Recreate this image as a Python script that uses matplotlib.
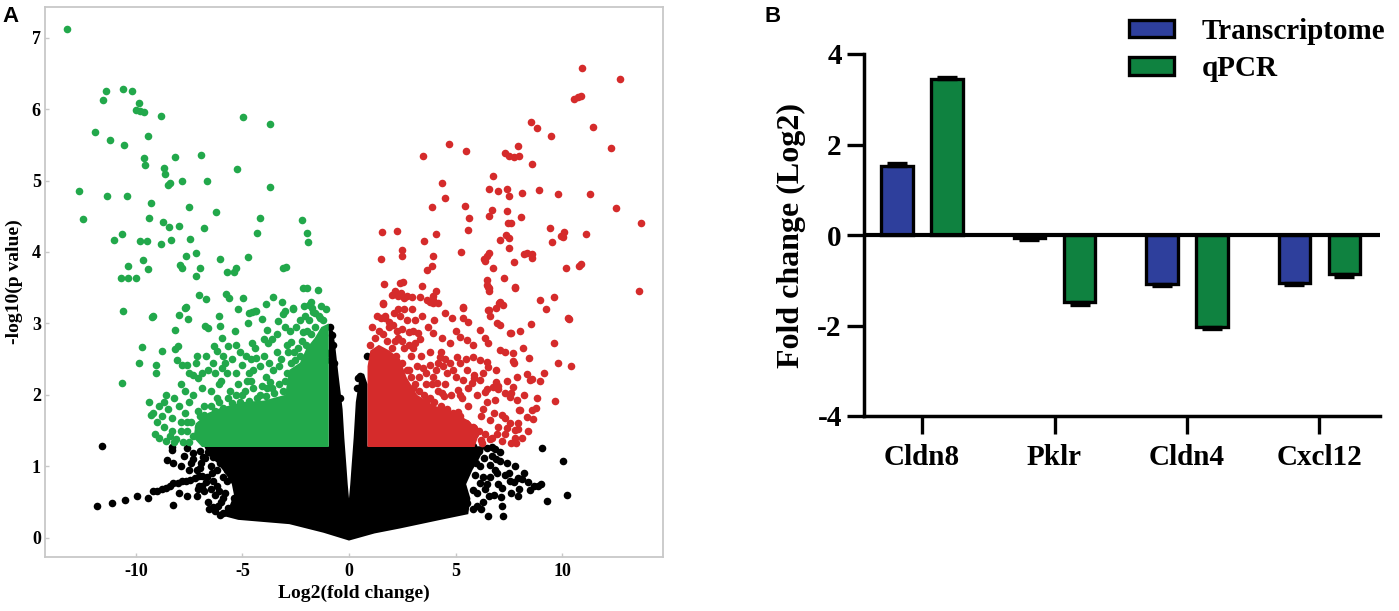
import matplotlib
matplotlib.use("Agg")
import matplotlib.pyplot as plt
from matplotlib.patches import Patch
import numpy as np

plt.rcParams['axes.unicode_minus'] = False
SERIF = ['Liberation Serif', 'DejaVu Serif']
SANS = ['Liberation Sans', 'DejaVu Sans']

# ---------------- Panel A: volcano plot ----------------
# dense clouds drawn as outlines (visual envelope of the overlapping dots)
black_cloud_x = [0.0, 1.2, 2.4, 4.3, 5.6, 5.7, 5.5, 5.8, 6.1, 6.4, 0.87, 0.87, 0.7, 0.5, 0.32,
                 0.22, 0.12, 0.06, 0.0, -0.06, -0.12, -0.22, -0.3, -0.5, -0.65, -0.75, -0.95,
                 -0.95, -6.8, -6.6, -6.2, -5.8, -5.5, -5.4, -5.6, -6.1, -5.2, -2.8, -1.2]
black_cloud_y = [-0.04, 0.06, 0.13, 0.25, 0.33, 0.55, 0.75, 0.95, 1.1, 1.28, 1.28, 2.15, 2.3, 2.25, 1.9,
                 1.4, 1.0, 0.75, 0.55, 0.75, 1.0, 1.4, 1.8, 2.3, 2.7, 2.9, 2.9,
                 1.28, 1.28, 1.15, 1.05, 0.9, 0.75, 0.6, 0.45, 0.32, 0.25, 0.19, 0.07]

green_cloud_x = [-0.95, -6.9, -7.3, -7.2, -6.6, -6.0, -5.0, -4.0, -3.0, -2.8, -2.3, -2.0, -1.6, -1.3, -0.95]
green_cloud_y = [1.27, 1.27, 1.4, 1.6, 1.75, 1.82, 1.9, 1.92, 2.0, 2.35, 2.45, 2.65, 2.8, 2.95, 3.0]

red_cloud_x = [0.87, 5.9, 6.1, 5.7, 5.0, 4.0, 3.2, 2.7, 2.4, 1.9, 1.4, 1.0, 0.87]
red_cloud_y = [1.27, 1.27, 1.45, 1.62, 1.75, 1.85, 2.0, 2.25, 2.5, 2.62, 2.7, 2.62, 2.4]

# individual points (log2 fold change, -log10 p)
down_x = [-13.25, -12.68, -12.5, -11.9, -11.56, -11.4, -11.35, -11.22, -11.02, -10.67, -10.7, -10.63,
          -10.63, -10.56, -10.44, -10.38, -10.38, -10.19, -10.0, -9.86, -10.0, -9.81, -9.62, -9.81,
          -9.69, -9.62, -9.59, -9.5, -9.45, -9.44, -9.39, -9.3, -9.22, -8.82, -8.82, -8.73, -8.69,
          -8.65, -8.47, -8.37, -8.5, -8.4, -8.17, -7.98, -7.93, -7.85, -7.85, -7.65, -7.67, -8.0,
          -7.5, -7.46, -7.17, -7.17, -7.06, -6.99, -6.96, -6.81, -6.73, -6.66, -6.25, -6.06, -6.1,
          -5.77, -5.65, -5.73, -5.4, -5.3, -5.26, -5.2, -4.99, -4.96, -4.74, -4.7, -4.55, -4.35,
          -4.32, -4.18, -3.9, -3.72, -3.71, -3.57, -3.1, -2.98, -3.16, -3.0, -2.62, -2.22, -2.15,
          -1.98, -1.99, -1.92, -1.45, -2.1, -1.9, -1.75, -1.7,
          -10.67, -9.84, -9.73, -9.23, -9.04, -9.04, -8.8, -8.17, -7.7, -7.54, -8.17, -8.05,
          -8.09, -7.85, -7.6, -7.32, -7.1, -7.15, -6.76, -6.6, -6.32, -6.06, -5.9, -5.98, -5.7,
          -5.35, -4.73, -4.41, -4.57, -4.6, -4.35, -3.86, -4.08, -3.32, -3.1, -2.61, -1.78, -1.36,
          -3.8, -3.6, -2.9, -2.7, -2.15, -1.95, -2.53, -2.3,
          -9.4, -9.2, -9.0, -8.7, -8.5, -8.9, -8.3, -8.6, -8.2, -7.9, -8.1, -7.7, -7.5, -7.3,
          -7.9, -9.1, -8.6,
          -6.8, -6.5, -6.2, -6.0, -5.6, -5.3, -5.0, -4.8, -4.5, -4.2, -3.9, -3.6, -3.3, -3.0,
          -6.6, -5.8, -5.1, -4.0, -3.4, -6.9, -7.0, -6.4,
          -7.6, -7.4, -7.1, -6.8, -6.5, -6.3, -6.1, -5.9, -5.7, -5.5, -5.3, -5.1, -4.9, -4.7,
          -4.5, -4.3, -4.1, -3.9, -3.7, -3.5, -3.3, -3.1, -2.9, -2.7, -2.6, -2.4, -2.2, -2.0,
          -1.8, -1.6, -1.4, -1.2, -1.1, -1.3, -1.6,
          -7.5, -7.2, -6.9, -6.7, -6.4, -6.2, -5.95, -5.75, -5.5, -5.3, -5.0, -4.85, -4.7, -4.4,
          -4.2, -4.0, -3.75, -3.55, -3.4, -3.2, -3.0, -2.85, -2.75, -2.5, -2.3, -2.05, -1.9,
          -6.1, -6.3, -5.2, -4.6, -3.85, -7.7, -8.0, -8.3, -8.8, -7.8, -7.5, -8.2,
          -7.3, -7.6, -8.4, -8.9, -9.3, -7.9, -7.1, -8.7]
down_y = [7.12, 4.85, 4.46, 5.68, 6.13, 6.26, 4.78, 5.57, 4.17, 4.25, 3.64, 3.17,
          6.28, 5.5, 4.78, 3.8, 3.64, 6.26, 3.64, 6.09, 5.99, 5.97, 5.96, 4.15,
          3.89, 5.31, 5.22, 4.15, 5.62, 3.76, 4.47, 4.69, 3.1, 5.9, 4.11, 4.42, 5.18,
          5.09, 4.35, 4.17, 4.94, 4.96, 5.33, 4.36, 3.82, 3.78, 4.99, 3.94, 3.23, 3.12,
          4.63, 4.18, 3.98, 3.66, 3.4, 3.78, 5.36, 4.34, 3.34, 4.99, 4.56, 3.9, 3.1,
          3.41, 3.36, 3.72, 3.72, 3.78, 5.16, 3.2, 3.35, 5.89, 3.93, 3.15, 3.16, 3.18,
          4.27, 4.47, 3.27, 4.91, 5.79, 3.37, 3.78, 3.79, 3.3, 3.17, 3.2, 4.45, 3.5,
          3.5, 4.26, 4.14, 3.47, 3.24, 3.26, 3.22, 3.16,
          2.17, 2.44, 2.67, 3.09, 2.42, 2.31, 2.61, 2.91, 3.22, 3.06, 2.64, 2.68,
          2.49, 2.42, 2.42, 2.28, 2.24, 2.54, 2.97, 2.93, 2.68, 2.96, 2.54, 2.79, 2.68,
          2.89, 3.0, 3.17, 2.72, 2.5, 2.52, 2.91, 3.06, 3.03, 3.13, 3.21, 3.3, 3.08,
          2.73, 2.78, 2.7, 2.74, 2.88, 2.9, 2.49, 2.55,
          1.9, 1.75, 1.62, 1.55, 1.8, 1.85, 1.68, 2.0, 1.95, 1.5, 1.38, 1.75, 1.9, 2.0,
          2.15, 1.45, 1.35,
          1.85, 2.05, 1.95, 2.2, 2.05, 2.3, 2.0, 2.2, 2.35, 2.0, 2.25, 2.1, 2.4, 2.2,
          2.35, 2.45, 2.6, 2.55, 2.6, 2.1, 1.7, 1.6,
          1.5, 1.62, 1.78, 1.72, 1.85, 1.78, 1.9, 1.82, 1.95, 1.88, 2.0, 1.9, 2.05, 1.92,
          2.1, 1.95, 2.12, 1.98, 2.18, 2.02, 2.15, 2.05, 2.3, 2.45, 2.6, 2.65, 2.75, 2.7,
          2.85, 2.95, 3.1, 3.05, 3.2, 3.25, 3.15,
          2.3, 2.45, 2.3, 2.55, 2.45, 2.62, 2.38, 2.3, 2.5, 2.7, 2.42, 2.55, 2.3, 2.65,
          2.4, 2.78, 2.45, 2.35, 2.85, 2.5, 2.95, 2.6, 2.9, 2.95, 3.05, 3.1, 3.05,
          2.15, 2.3, 2.15, 2.2, 2.1, 2.05, 1.85, 1.5, 1.7, 1.34, 1.34, 1.34,
          1.42, 1.62, 1.42, 1.4, 1.72, 1.62, 1.55, 1.9]

up_x = [1.56, 2.24, 1.5, 2.49, 2.49, 1.64, 1.6, 3.48, 4.7, 5.48, 4.37, 4.49, 3.88, 5.45, 5.64,
        5.57, 3.53, 4.07, 3.93, 3.9, 5.24, 3.65, 2.54, 3.41, 2.0, 2.15, 2.3, 2.45, 2.6, 3.8,
        3.95, 4.1, 5.35, 10.92, 12.72, 10.55, 10.75, 10.9, 11.44, 12.3, 8.54, 8.84, 9.5, 7.95,
        7.3, 7.5, 7.75, 8.0, 8.58, 6.78, 6.56, 7.0, 7.4, 7.5, 8.1, 8.92, 9.81, 11.32, 12.53,
        13.69, 13.6, 6.71, 7.42, 6.57, 8.08, 7.48, 7.6, 7.37, 7.5, 7.1, 7.51, 9.44, 10.1, 9.95,
        11.13, 9.52, 8.2, 8.35, 8.6, 8.6, 6.5, 6.35, 7.76, 6.77, 10.17, 10.8, 10.9, 7.28, 6.57,
        6.57, 7.81, 8.97, 9.62, 9.23, 7.04, 6.9, 6.57, 10.3, 5.37, 10.03, 10.33, 8.54, 9.64,
        9.8, 10.4, 9.67, 8.15, 8.47, 7.59, 8.03, 7.7, 7.75, 8.34, 8.58, 8.97, 9.15, 8.78, 8.65,
        1.5, 6.55, 6.38, 6.53, 7.79,
        2.39, 2.1, 2.4, 2.7, 2.96, 1.58, 3.33, 3.65, 3.94, 3.94, 4.2, 1.69, 1.9, 2.07, 2.3,
        2.6, 2.96, 2.39, 2.7, 3.1, 3.41, 2.25, 2.5, 2.8, 3.0, 3.24, 2.16, 2.5, 2.8, 3.1, 3.33,
        3.94, 4.35, 4.74, 3.47, 3.8, 4.18, 5.21, 5.54, 5.35, 5.59, 4.82, 6.46, 6.46, 7.1, 7.25,
        6.95, 7.1, 6.53, 6.62, 6.15, 6.4, 6.53, 7.56, 7.7, 7.1, 7.32, 6.48, 6.53, 5.82, 6.15,
        5.54, 5.85, 6.15, 5.07, 5.21, 4.27, 4.5, 4.74, 4.6, 5.0, 5.35, 3.94, 4.13, 6.76, 7.0,
        7.3, 7.56, 7.89, 8.03, 8.36, 8.58, 7.56, 7.79,
        7.95, 7.95, 7.8, 7.85, 7.4, 7.59, 7.98, 7.17, 7.3, 6.85, 6.38, 6.5, 6.2, 6.25, 5.87,
        5.9, 5.12, 5.2, 4.84, 4.9, 4.04, 4.1, 3.65, 3.43, 3.5, 2.77, 2.85, 2.39, 5.12, 5.2,
        4.37, 4.45, 5.77, 5.85, 7.0, 6.9, 7.7, 8.5, 8.81, 6.6, 6.3, 6.95, 7.2, 6.6, 3.0, 3.3,
        2.8, 3.6,
        1.0, 1.2, 1.4, 1.1, 1.3, 1.6, 1.8, 2.0, 2.2, 2.5, 2.7, 2.9, 3.1, 3.3, 3.5, 3.8, 4.0,
        4.3, 4.6, 4.9, 5.2, 5.5, 5.8, 6.1, 6.4, 6.7, 7.0, 7.3, 6.8, 6.5, 6.2, 5.6, 5.3, 4.8,
        4.5, 4.2, 3.9, 3.6, 3.2, 2.9, 2.6, 2.3, 1.9, 1.7, 2.1, 3.0, 3.4, 3.8, 4.1, 4.4, 4.9,
        5.6, 6.0, 6.3, 6.9, 7.4, 7.9, 8.2, 8.4, 8.1, 7.6, 5.5, 5.8, 4.0, 4.5, 3.7, 4.3, 5.0]
up_y = [4.28, 4.29, 3.9, 4.03, 3.94, 3.55, 3.27, 5.34, 5.51, 5.42, 4.97, 4.75, 4.63, 4.65, 4.48,
        4.31, 4.16, 4.25, 3.95, 3.8, 4.0, 3.75, 3.58, 3.52, 3.4, 3.45, 3.38, 3.42, 3.35, 3.3,
        3.38, 3.45, 3.23, 6.58, 6.42, 6.14, 6.17, 6.19, 5.75, 5.45, 5.82, 5.73, 5.63, 5.48,
        5.38, 5.35, 5.33, 5.34, 5.23, 5.06, 4.88, 4.85, 4.88, 4.78, 4.82, 4.87, 4.81, 4.81, 4.61,
        4.4, 3.45, 4.59, 4.57, 4.5, 4.49, 4.41, 4.41, 4.24, 4.2, 4.17, 4.05, 4.34, 4.28, 4.22,
        4.25, 4.14, 3.97, 3.99, 3.97, 3.91, 3.95, 3.9, 3.86, 3.78, 3.78, 3.8, 3.83, 3.64, 3.5,
        3.45, 3.51, 3.33, 3.37, 3.2, 3.28, 3.22, 3.19, 3.07, 3.22, 4.21, 3.06, 2.99, 2.73,
        2.44, 2.41, 1.91, 2.66, 2.52, 2.87, 2.9, 2.47, 2.45, 2.29, 2.22, 2.19, 2.3, 1.82, 1.66,
        3.07, 3.98, 3.87, 3.51, 3.5,
        3.57, 3.41, 3.4, 3.38, 3.37, 3.28, 3.37, 3.33, 3.33, 3.29, 3.28, 3.08, 3.02, 2.98, 3.2,
        3.2, 3.2, 3.1, 3.05, 3.05, 3.1, 2.9, 2.92, 2.88, 2.9, 2.87, 2.75, 2.76, 2.7, 2.72, 2.78,
        2.87, 2.8, 2.73, 2.38, 2.42, 2.45, 2.81, 2.77, 3.08, 3.02, 3.07, 3.61, 3.54, 3.3, 3.26,
        3.0, 2.98, 3.19, 3.1, 2.91, 2.8, 2.73, 2.87, 2.59, 2.63, 2.6, 2.46, 2.39, 2.53, 2.49,
        2.35, 2.28, 2.21, 2.53, 2.45, 2.53, 2.5, 2.45, 2.31, 2.25, 2.21, 2.25, 2.17, 2.11, 2.08,
        2.02, 1.97, 1.93, 1.79, 1.69, 1.79, 1.61, 1.51,
        1.6, 1.52, 1.4, 1.33, 1.53, 2.03, 1.79, 1.72, 1.68, 1.93, 2.04, 2.08, 1.37, 1.33, 1.54,
        1.45, 1.76, 1.7, 1.48, 1.42, 1.72, 1.65, 1.93, 1.54, 1.48, 1.83, 1.76, 1.75, 2.07, 2.0,
        2.03, 1.98, 2.17, 2.24, 2.13, 2.18, 2.11, 2.21, 1.95, 1.65, 1.8, 1.45, 1.35, 1.38, 2.1,
        2.25, 2.35, 2.15,
        2.7, 2.8, 2.9, 2.95, 3.1, 2.85, 2.75, 2.65, 2.55, 2.45, 2.35, 2.25, 2.15, 2.05, 2.0,
        1.95, 1.9, 1.85, 1.8, 1.75, 1.65, 1.6, 1.55, 1.5, 1.45, 1.4, 1.55, 1.45, 1.75, 1.9,
        1.7, 1.85, 1.95, 2.0, 2.15, 2.05, 2.15, 2.3, 2.4, 2.55, 2.65, 2.8, 2.95, 3.1, 3.15,
        2.65, 2.55, 2.6, 2.35, 2.4, 2.35, 2.1, 2.0, 2.3, 2.35, 2.2, 2.25, 2.0, 1.5, 1.4, 1.33,
        2.5, 2.7, 3.05, 3.15, 2.95, 2.6, 2.9]

ns_x = [-11.6, -8.56, -8.25, -8.3, -8.3, -7.73, -7.62, -7.15, -6.38, -6.06, -7.15, -6.9, -6.67,
        -7.32, -6.85, -6.38, -6.05, -5.73, -6.2, -5.8, -5.4, -5.1, -4.8, -8.25,
        -11.85, -11.14, -10.5, -9.97, -9.42, -9.18, -9.0, -8.8, -8.6, -8.4, -8.25, -8.05, -7.85,
        -7.65, -7.46, -7.25, -7.05,
        -7.0, -6.6, -6.95, -6.5, -6.5, -6.8, -6.3, -6.0, -5.7, -6.6, -5.9, -6.2, -7.4,
        -7.6, -7.3, -7.0, -6.75, -6.4, -6.1, -5.9, -6.3, -5.9, -6.0, -5.6, -6.9, -7.1, -7.9,
        -8.0, -7.5, -6.45, -6.7, -7.05, -5.75, -6.15, -6.55,
        9.05, 10.06, 10.22, 9.28, 8.7, 8.85, 8.5, 7.93, 8.1, 7.95, 7.56, 7.75, 6.95, 6.85, 7.13,
        7.17, 6.54, 7.25, 6.57, 6.15, 6.15, 6.62, 7.09, 6.85, 5.84, 5.84, 6.46, 5.06, 5.84, 5.53,
        6.3, 6.5, 7.3, 7.0, 6.0, 6.3, 5.9, 6.7,
        6.7, 7.1, 7.4, 7.8, 8.2, 8.4, 6.4, 6.8, 6.2, 5.8, 6.0, 7.6, 8.0, 9.0, 6.1, 6.9,
        6.6, 7.2, 6.35, 5.95, 7.5,
        0.83, 0.44, 0.36, 0.52, -0.42, -0.89, -0.81, -0.97, -0.89, -0.75, -0.7,
        0.0, 0.0, 0.0]
ns_y = [1.28, 1.09, 1.05, 1.27, 1.23, 1.15, 0.58, 0.58, 0.43, 0.32, 0.95, 0.87, 0.85,
        1.19, 1.13, 1.13, 1.04, 0.95, 0.72, 0.63, 0.55, 0.53, 0.49, 0.46,
        0.45, 0.49, 0.53, 0.59, 0.56, 0.65, 0.66, 0.68, 0.7, 0.73, 0.76, 0.77, 0.79,
        0.8, 0.81, 0.84, 0.86,
        1.22, 1.2, 1.05, 1.0, 0.68, 0.65, 0.6, 0.5, 0.42, 0.5, 0.85, 0.95, 1.05,
        1.25, 1.1, 0.98, 1.12, 0.8, 0.65, 0.55, 0.38, 0.35, 1.15, 1.1, 0.72, 0.68, 1.0,
        0.62, 0.95, 0.9, 0.78, 0.72, 0.8, 0.45, 0.4,
        1.25, 1.07, 0.6, 0.52, 0.72, 0.73, 0.67, 0.84, 0.82, 0.58, 0.8, 0.78, 0.91, 0.95, 0.57,
        0.44, 0.31, 0.31, 0.59, 0.77, 1.0, 1.02, 1.07, 1.24, 1.16, 1.29, 1.26, 0.57, 0.67, 0.49,
        0.85, 0.75, 0.88, 0.75, 0.45, 0.5, 0.88, 1.15,
        1.27, 1.2, 1.05, 1.0, 0.9, 0.78, 0.68, 0.6, 0.4, 0.4, 0.62, 0.62, 0.68, 0.75, 1.22, 1.1,
        0.85, 0.7, 1.12, 1.05, 0.9,
        2.55, 2.23, 2.1, 2.26, 1.96, 2.95, 2.84, 2.59, 2.49, 2.7, 2.45,
        0.15, 0.3, 0.42]

# ---------------- Panel B: validation bars ----------------
genes = ['Cldn8', 'Pklr', 'Cldn4', 'Cxcl12']
transcriptome = [1.53, -0.06, -1.08, -1.06]
qpcr = [3.45, -1.49, -2.03, -0.87]
transcriptome_err = [0.06, 0.04, 0.05, 0.05]
qpcr_err = [0.05, 0.05, 0.05, 0.05]

GREEN = '#22a84b'
RED = '#d52b2b'
BAR_BLUE = '#2e3f9c'
BAR_GREEN = '#0f8240'
DOT = 30

fig = plt.figure(figsize=(13.99, 6.11), dpi=100)

# ---- A ----
axA = fig.add_axes([45 / 1399, 54 / 611, 618 / 1399, 550 / 611])
axA.fill(black_cloud_x, black_cloud_y, color='black', lw=0, zorder=1)
axA.scatter(ns_x, ns_y, s=DOT, c='black', linewidths=0, zorder=2)
axA.fill(green_cloud_x, green_cloud_y, color=GREEN, lw=0, zorder=3)
axA.fill(red_cloud_x, red_cloud_y, color=RED, lw=0, zorder=3)
axA.scatter(down_x, down_y, s=DOT, c=GREEN, linewidths=0, zorder=4)
axA.scatter(up_x, up_y, s=DOT, c=RED, linewidths=0, zorder=4)

axA.set_xlim(-14.27, 14.74)
axA.set_ylim(-0.27, 7.43)
axA.set_xticks([-10, -5, 0, 5, 10])
axA.set_yticks(range(0, 8))
for sp in axA.spines.values():
    sp.set_color('#c8c8c8')
    sp.set_linewidth(1.3)
axA.tick_params(direction='in', length=3, color='#c8c8c8', width=1, pad=4)
axA.tick_params(axis='y', pad=3)
for lab in axA.get_xticklabels() + axA.get_yticklabels():
    lab.set_fontfamily(SERIF)
    lab.set_fontweight('bold')
    lab.set_fontsize(13)
axA.set_xlabel('Log2(fold change)', fontfamily=SERIF, fontweight='bold', fontsize=14, labelpad=4)
axA.set_ylabel('-log10(p value)', fontfamily=SERIF, fontweight='bold', fontsize=14)
axA.yaxis.set_label_coords(-0.035, 0.5)

# ---- B ----
axB = fig.add_axes([864 / 1399, 195 / 611, 516 / 1399, 362 / 611])
pos = np.arange(len(genes))
off, w = 0.189, 0.236
axB.bar(pos - off, transcriptome, width=w, color=BAR_BLUE, edgecolor='black', linewidth=2.4, zorder=2)
axB.bar(pos + off, qpcr, width=w, color=BAR_GREEN, edgecolor='black', linewidth=2.4, zorder=2)
for xs, vals, errs in [(pos - off, transcriptome, transcriptome_err), (pos + off, qpcr, qpcr_err)]:
    lo = [0 if v > 0 else e for v, e in zip(vals, errs)]
    hi = [e if v > 0 else 0 for v, e in zip(vals, errs)]
    axB.errorbar(xs, vals, yerr=[lo, hi], fmt='none', ecolor='black', elinewidth=2.4,
                 capsize=7, capthick=2.4, zorder=3)
axB.axhline(0, color='black', lw=3.0, zorder=4)

axB.set_xlim(-0.438, 3.457)
axB.set_ylim(-4, 4)
axB.spines['top'].set_visible(False)
axB.spines['right'].set_visible(False)
axB.spines['left'].set_linewidth(2.5)
axB.spines['bottom'].set_linewidth(2.5)
axB.set_xticks(pos)
axB.set_xticklabels(genes)
axB.set_yticks([-4, -2, 0, 2, 4])
axB.set_yticklabels(['-4', '-2', '0', '2', '4'])
axB.tick_params(axis='x', length=13, width=2.4, pad=7)
axB.tick_params(axis='y', length=12, width=2.4, pad=4)
for lab in axB.get_xticklabels() + axB.get_yticklabels():
    lab.set_fontfamily(SERIF)
    lab.set_fontweight('bold')
    lab.set_fontsize(21)
axB.set_ylabel('Fold change (Log2)', fontfamily=SERIF, fontweight='bold', fontsize=23)
axB.yaxis.set_label_coords(-0.112, 0.5)

handles = [Patch(facecolor=BAR_BLUE, edgecolor='black', linewidth=2.4, label='Transcriptome'),
           Patch(facecolor=BAR_GREEN, edgecolor='black', linewidth=2.4, label='qPCR')]
fig.legend(handles=handles, loc='upper left', bbox_to_anchor=(1129 / 1399, 1 - 18 / 611),
           frameon=False, borderpad=0, borderaxespad=0, handlelength=1.55, handleheight=0.55,
           handletextpad=0.95, labelspacing=0.36,
           prop={'family': SERIF, 'weight': 'bold', 'size': 21})

fig.text(2 / 1399, 1 - 6 / 611, 'A', fontfamily=SANS, fontweight='bold', fontsize=16, va='top', ha='left')
fig.text(764 / 1399, 1 - 6 / 611, 'B', fontfamily=SANS, fontweight='bold', fontsize=16, va='top', ha='left')

fig.savefig('out.png', dpi=100)
